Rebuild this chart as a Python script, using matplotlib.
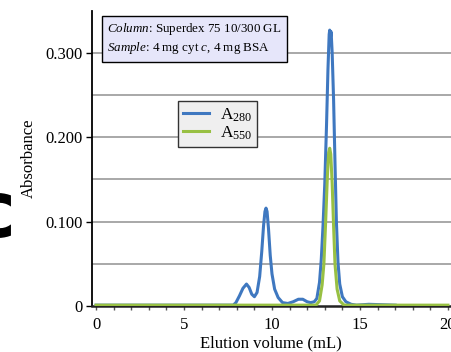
import matplotlib
matplotlib.use("Agg")
import matplotlib.pyplot as plt
from matplotlib.ticker import MultipleLocator, FixedLocator

plt.rcParams["font.family"] = ["Liberation Serif", "DejaVu Serif"]
plt.rcParams["mathtext.fontset"] = "custom"
plt.rcParams["mathtext.rm"] = "Liberation Serif"
plt.rcParams["mathtext.it"] = "Liberation Serif:italic"

# A280 trace (mL, absorbance)
a280_x = [0.0, 2.0, 5.0, 7.8, 7.95, 8.15, 8.35, 8.55, 8.7, 8.85, 9.0, 9.15, 9.3,
          9.42, 9.52, 9.6, 9.66, 9.72, 9.8, 9.9, 10.0, 10.15, 10.35, 10.6, 10.9,
          11.2, 11.5, 11.75, 12.0, 12.2, 12.4, 12.55, 12.7, 12.8, 12.9, 13.0,
          13.1, 13.18, 13.25, 13.28, 13.32, 13.36, 13.42, 13.5, 13.58, 13.66,
          13.75, 13.85, 14.0, 14.2, 14.5, 14.8, 15.5, 17.0]
a280_y = [0.001, 0.001, 0.001, 0.001, 0.004, 0.012, 0.021, 0.026, 0.022, 0.014,
          0.011, 0.016, 0.035, 0.065, 0.095, 0.112, 0.116, 0.112, 0.092, 0.06,
          0.038, 0.02, 0.01, 0.004, 0.003, 0.005, 0.008, 0.008, 0.005, 0.004,
          0.005, 0.009, 0.028, 0.055, 0.095, 0.145, 0.215, 0.28, 0.322, 0.327,
          0.318, 0.325, 0.30, 0.245, 0.17, 0.10, 0.052, 0.026, 0.011, 0.005,
          0.002, 0.001, 0.002, 0.001]

# A550 trace
a550_x = [0.0, 5.0, 10.0, 12.5, 12.7, 12.85, 12.95, 13.05, 13.15, 13.22, 13.28,
          13.34, 13.42, 13.5, 13.58, 13.7, 13.85, 14.1, 17.0, 20.0]
a550_y = [0.001, 0.001, 0.001, 0.001, 0.006, 0.025, 0.05, 0.10, 0.155, 0.182,
          0.187, 0.18, 0.145, 0.095, 0.05, 0.02, 0.006, 0.001, 0.001, 0.001]

y_ticks = [0, 0.1, 0.2, 0.3]
y_tick_labels = ["0", "0.100", "0.200", "0.300"]
x_ticks = [0, 5, 10, 15, 20]

fig = plt.figure(figsize=(4.52, 3.52), dpi=100)
ax = fig.add_axes([0.2035, 0.1307, 0.7965, 0.8389])

for g in [0.05, 0.1, 0.15, 0.2, 0.25, 0.3]:
    ax.axhline(g, color="#9a9a9a", lw=1.2, zorder=1)

ax.plot(a280_x, a280_y, color="#3f78c0", lw=2.2, label="A$_{\\mathrm{280}}$", zorder=3)
ax.plot(a550_x, a550_y, color="#98c043", lw=2.2, label="A$_{\\mathrm{550}}$", zorder=4)

ax.set_xlim(-0.23, 20.23)
ax.set_ylim(0, 0.35)

ax.spines["top"].set_visible(False)
ax.spines["right"].set_visible(False)
ax.spines["left"].set_linewidth(1.3)
ax.spines["bottom"].set_linewidth(1.8)
ax.spines["bottom"].set_color("#222222")

ax.yaxis.set_major_locator(FixedLocator(y_ticks))
ax.set_yticklabels(y_tick_labels)
ax.xaxis.set_major_locator(FixedLocator(x_ticks))
ax.xaxis.set_minor_locator(MultipleLocator(1))
ax.tick_params(axis="y", length=4, width=1, pad=3, labelsize=12)
ax.tick_params(axis="x", which="both", length=3, width=1, color="#555555",
               pad=5, labelsize=12)

ax.set_ylabel("Absorbance", fontsize=12)
ax.yaxis.set_label_coords(-0.152, 0.5)
ax.set_xlabel("Elution volume (mL)", fontsize=12)
ax.xaxis.set_label_coords(0.497, -0.10)

ax.text(0.0417, 0.965,
        "$\\mathit{Column}$: Superdex 75 10/300 GL\n$\\mathit{Sample}$: 4 mg cyt $\\mathit{c}$, 4 mg BSA",
        transform=ax.transAxes, fontsize=9.4, va="top", ha="left", linespacing=1.3,
        bbox=dict(boxstyle="square,pad=0.4", fc="#e6e6fa", ec="black", lw=1.0),
        zorder=6)

leg = ax.legend(loc="upper left", bbox_to_anchor=(0.239, 0.694), borderaxespad=0,
                fontsize=12.5, handlelength=1.5, handletextpad=0.6,
                labelspacing=0.05, borderpad=0.3, fancybox=False, framealpha=1)
leg.get_frame().set_facecolor("#efefef")
leg.get_frame().set_edgecolor("#333333")
leg.set_zorder(6)

fig.text(0.035, 0.39, "c", fontsize=56, fontweight="bold", family="DejaVu Sans",
         va="center", ha="right")

fig.savefig("out.png", dpi=100)
